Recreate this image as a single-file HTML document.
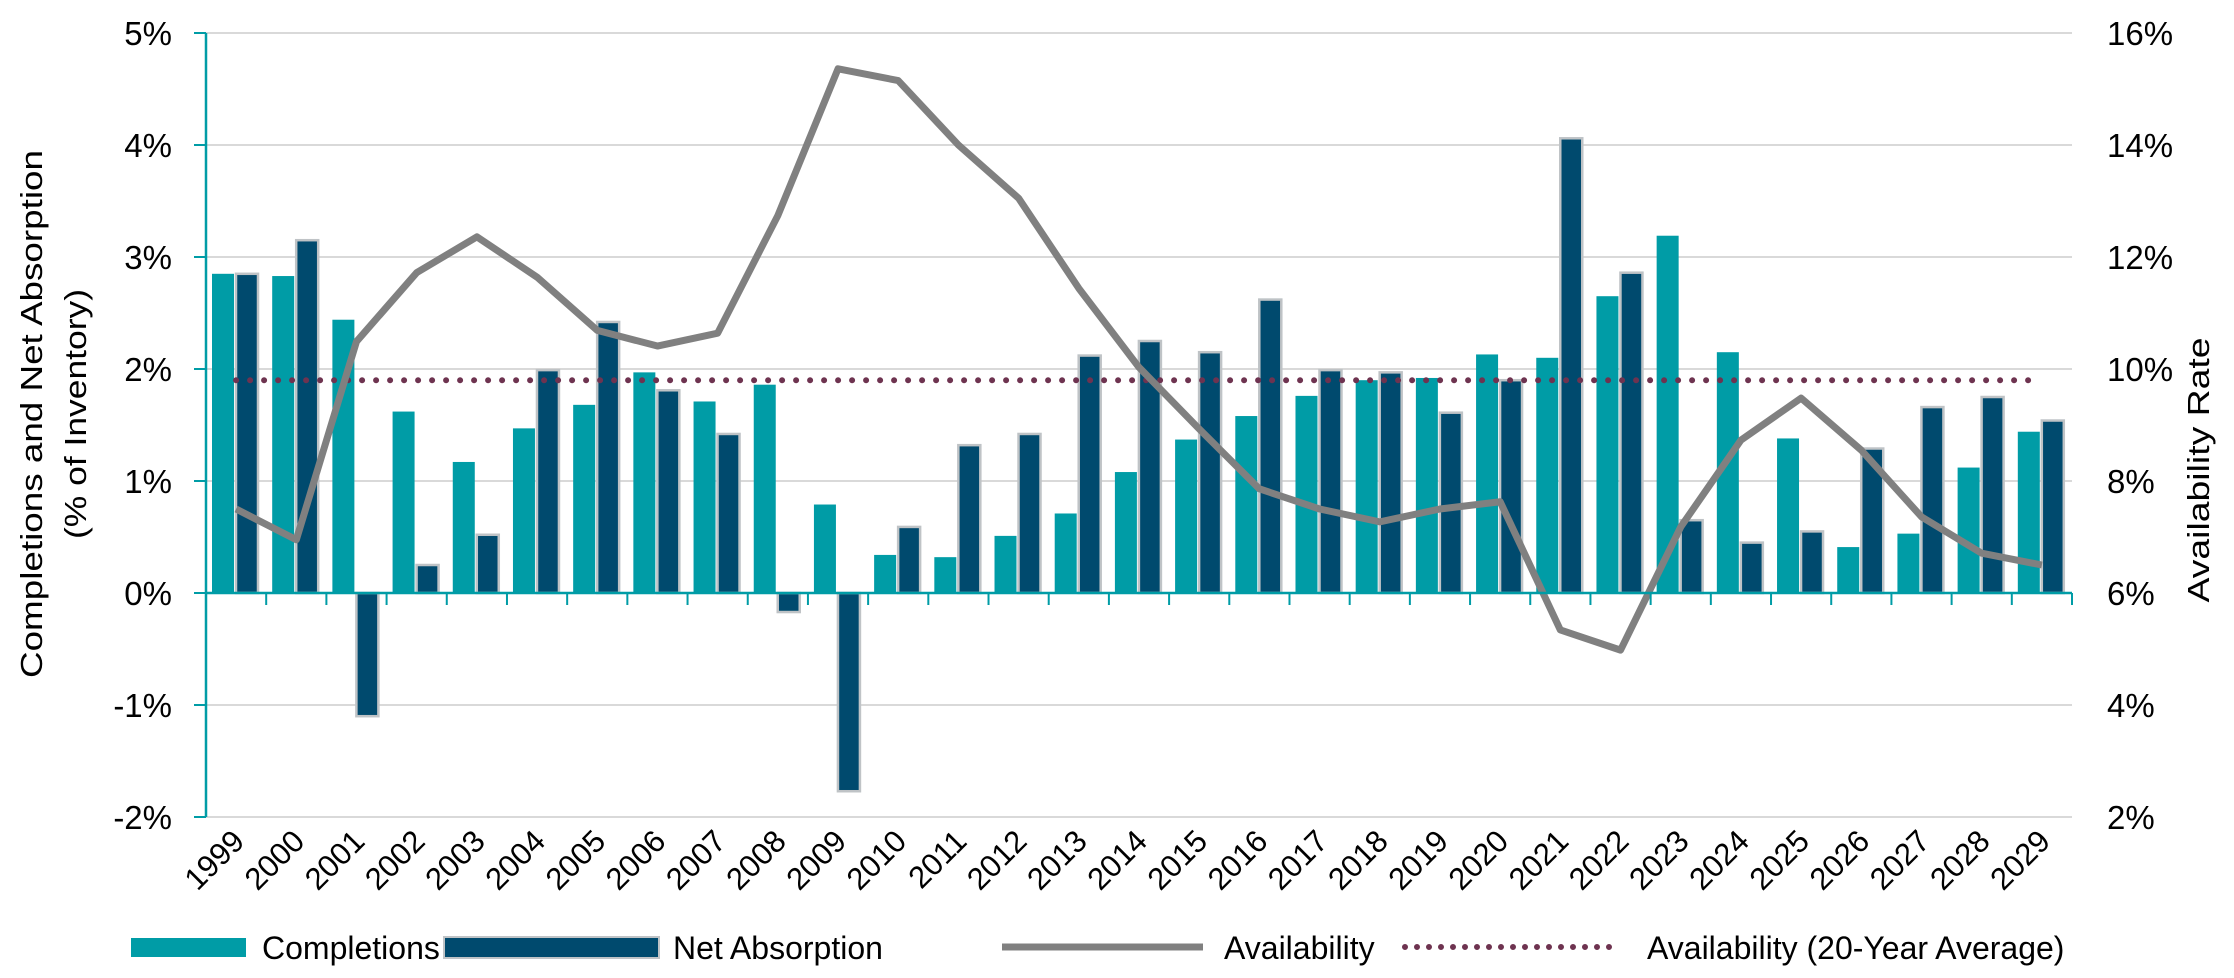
<!DOCTYPE html>
<html><head><meta charset="utf-8"><style>
html,body{margin:0;padding:0;background:#fff;}
svg{display:block;font-family:"Liberation Sans",sans-serif;}
</style></head><body>
<svg id="chart" width="2234" height="978" viewBox="0 0 2234 978" xmlns="http://www.w3.org/2000/svg">
<g id="grid"></g>
<g id="bars"></g>
<g id="lines"></g>
<g id="axes"></g>
<text transform="translate(42,414) rotate(-90)" text-anchor="middle" font-size="31" textLength="528" lengthAdjust="spacingAndGlyphs">Completions and Net Absorption</text>
<text transform="translate(86,414) rotate(-90)" text-anchor="middle" font-size="31" textLength="250" lengthAdjust="spacingAndGlyphs">(% of Inventory)</text>
<text transform="translate(2209,470) rotate(-90)" text-anchor="middle" font-size="31" textLength="265" lengthAdjust="spacingAndGlyphs">Availability Rate</text>
<g font-size="32" fill="#000">
 <g><rect x="131" y="938" width="115" height="19" fill="#009ca6"/><text x="262" y="959">Completions</text></g>
 <g><rect x="444" y="937" width="215" height="21" fill="#004a6e" stroke="#bfc3c6" stroke-width="2"/><text x="673" y="959">Net Absorption</text></g>
 <g><line x1="1002" y1="947" x2="1203" y2="947" stroke="#808080" stroke-width="7"/><text x="1224" y="959">Availability</text></g>
 <g><line x1="1405" y1="947" x2="1618" y2="947" stroke="#6e3350" stroke-width="6" stroke-dasharray="0 12" stroke-linecap="round"/><text x="1647" y="959">Availability (20-Year Average)</text></g>
</g>
</svg>
<script>
const categories = ["1999","2000","2001","2002","2003","2004","2005","2006","2007","2008","2009","2010","2011","2012","2013","2014","2015","2016","2017","2018","2019","2020","2021","2022","2023","2024","2025","2026","2027","2028","2029"];
const completions = [2.85,2.83,2.44,1.62,1.17,1.47,1.68,1.97,1.71,1.86,0.79,0.34,0.32,0.51,0.71,1.08,1.37,1.58,1.76,1.90,1.92,2.13,2.10,2.65,3.19,2.15,1.38,0.41,0.53,1.12,1.44];
const netAbsorption = [2.85,3.15,-1.10,0.25,0.52,1.99,2.42,1.81,1.42,-0.17,-1.77,0.59,1.32,1.42,2.12,2.25,2.15,2.62,1.99,1.97,1.61,1.90,4.06,2.86,0.65,0.45,0.55,1.29,1.66,1.75,1.54];
const availability = [7.5,6.95,10.49,11.72,12.36,11.64,10.69,10.41,10.64,12.74,15.36,15.15,14.0,13.05,11.44,10.03,8.93,7.86,7.5,7.27,7.5,7.63,5.34,4.98,7.18,8.73,9.48,8.55,7.36,6.71,6.5];
const availabilityAvg = 9.8;
const leftTicks = [5,4,3,2,1,0,-1,-2];
const rightTicks = [16,14,12,10,8,6,4,2];

const NS="http://www.w3.org/2000/svg";
const X0=206, X1=2072, Ytop=33, Ybot=817;
const catW=(X1-X0)/categories.length;
const yL=v=>Ytop+(5-v)*(Ybot-Ytop)/7;
const yR=v=>Ytop+(16-v)*(Ybot-Ytop)/14;
const xC=i=>X0+(i+0.5)*catW;
function mk(tag,attrs,parent){const e=document.createElementNS(NS,tag);for(const k in attrs)e.setAttribute(k,attrs[k]);parent.appendChild(e);return e;}
const grid=document.getElementById('grid'),bars=document.getElementById('bars'),lines=document.getElementById('lines'),axes=document.getElementById('axes');
leftTicks.forEach(t=>{
 const g=mk('line',{x1:X0,x2:X1,y1:yL(t),y2:yL(t),stroke:'#d9d9d9','stroke-width':2},grid);
 
 
 const tk=mk('line',{x1:X0-12,x2:X0,y1:yL(t),y2:yL(t),stroke:'#009ca6','stroke-width':2},axes);
 
 
 const tx=mk('text',{x:172,y:yL(t)+12,'text-anchor':'end','font-size':33},axes);
 tx.textContent=t+'%';
 
 
});
rightTicks.forEach(t=>{
 const tx=mk('text',{x:2107,y:yR(t)+12,'font-size':33},axes);
 tx.textContent=t+'%';
 
 
});
const bw=22;
categories.forEach((c,i)=>{
 const s=X0+i*catW;
 const v1=completions[i];
 const r1=mk('rect',{x:s+6,y:Math.min(yL(v1),yL(0)),width:bw,height:Math.abs(yL(v1)-yL(0)),fill:'#009ca6'},bars);
 
 
 const v2=netAbsorption[i];
 const r2=mk('rect',{x:s+30,y:Math.min(yL(v2),yL(0)),width:bw,height:Math.abs(yL(v2)-yL(0)),fill:'#004a6e',stroke:'#bfc3c6','stroke-width':2.5},bars);
 
 
 const tk=mk('line',{x1:X0+(i+1)*catW,x2:X0+(i+1)*catW,y1:yL(0),y2:yL(0)+12,stroke:'#009ca6','stroke-width':2},axes);
 
 
 const tx=mk('text',{'text-anchor':'end','font-size':31,transform:`translate(${xC(i)+10},${843}) rotate(-45)`},axes);
 tx.textContent=c;
 
 
});
const ax=mk('line',{x1:X0,x2:X0,y1:Ytop,y2:Ybot,stroke:'#009ca6','stroke-width':2.5},axes);


const zx=mk('line',{x1:X0,x2:X1,y1:yL(0),y2:yL(0),stroke:'#009ca6','stroke-width':2.5},axes);


const avg=mk('line',{x1:xC(0),x2:xC(categories.length-1),y1:yR(availabilityAvg),y2:yR(availabilityAvg),stroke:'#6e3350','stroke-width':6,'stroke-dasharray':'0 14','stroke-linecap':'round'},lines);


const pl=mk('polyline',{points:availability.map((v,i)=>xC(i)+','+yR(v)).join(' '),fill:'none',stroke:'#808080','stroke-width':7,'stroke-linejoin':'round'},lines);


</script>
</body></html>
